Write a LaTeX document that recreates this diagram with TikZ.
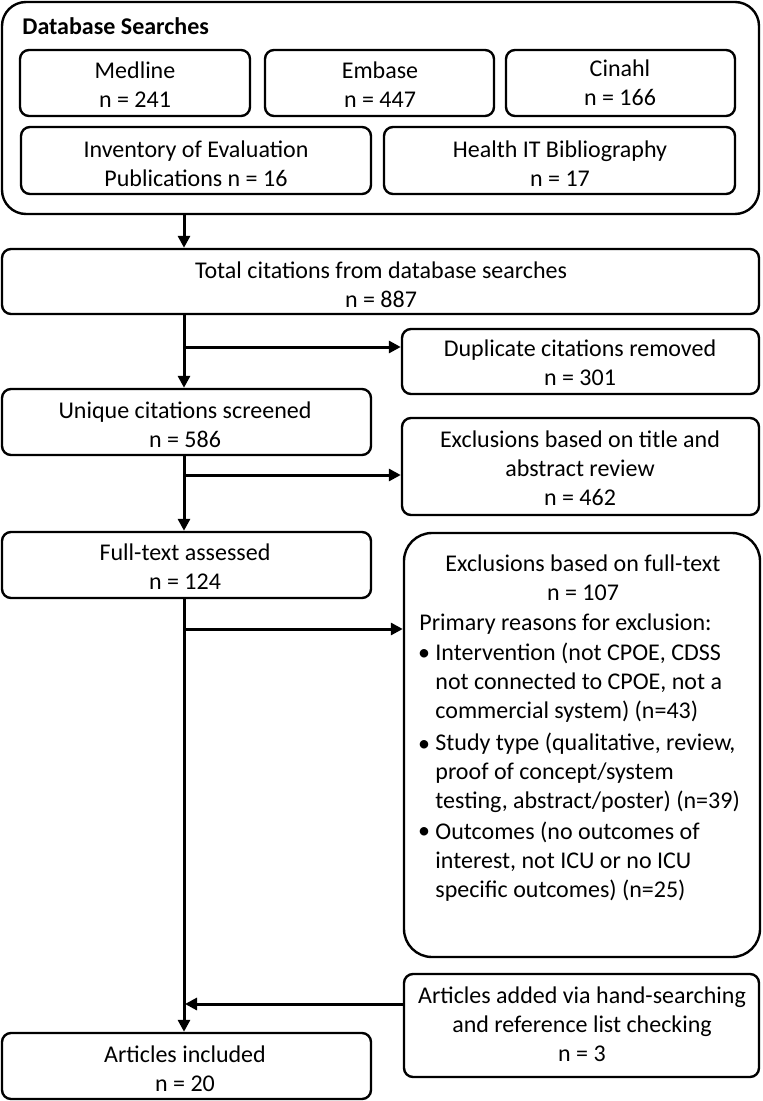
\documentclass[tikz,border=0pt]{standalone}
\usepackage{fontspec}
\setmainfont{Carlito}
\usetikzlibrary{fit,arrows.meta}
\begin{document}
\begin{tikzpicture}[x=0.5pt,y=-0.5pt,
  box/.style={draw=black, line width=1.2pt, rounded corners=4.5pt, inner sep=0pt},
  bigbox/.style={box, rounded corners=14pt},
  txt/.style={font=\fontsize{12}{14.5}\selectfont, inner sep=0pt, align=center, anchor=base, text=black},
  ltxt/.style={txt, align=left, anchor=base west},
  arr/.style={line width=1.5pt, -{Triangle[length=6pt,width=6pt]}}]
\useasboundingbox (0,0) rectangle (762,1101);

% database searches group (text anchors are at the baseline of the last line)
\node[bigbox, rounded corners=12pt, fit={(2,2) (759,214)}] (db) {};
\node[ltxt] (dbt) at (22,35) {\textbf{Database Searches}};
\node[box, fit={(20,50) (250,116)}] (med) {};
\node[txt] (medt) at (135,108) {Medline\\n = 241};
\node[box, fit={(265,50) (494,116)}] (emb) {};
\node[txt] (embt) at (380,108) {Embase\\n = 447};
\node[box, fit={(506,50) (735,116)}] (cin) {};
\node[txt] (cint) at (620,106) {Cinahl\\n = 166};
\node[box, fit={(21,127) (371,194)}] (inv) {};
\node[txt] (invt) at (196,187) {Inventory of Evaluation\\Publications n = 16};
\node[box, fit={(384,127) (735,194)}] (hit) {};
\node[txt] (hitt) at (560,187) {Health IT Bibliography\\n = 17};

% main flow
\node[box, fit={(2,249) (759,314)}] (total) {};
\node[txt] (totalt) at (381,307) {Total citations from database searches\\n = 887};
\node[box, fit={(402,329) (759,394)}] (dup) {};
\node[txt] (dupt) at (580,385) {Duplicate citations removed\\n = 301};
\node[box, fit={(2,389) (371,455)}] (uniq) {};
\node[txt] (uniqt) at (185,447) {Unique citations screened\\n = 586};
\node[box, fit={(402,418) (759,515)}] (ex1) {};
\node[txt] (ex1t) at (580,505) {Exclusions based on title and\\abstract review\\n = 462};
\node[box, fit={(2,532) (371,598)}] (full) {};
\node[txt] (fullt) at (185,589) {Full-text assessed\\n = 124};

\node[bigbox, fit={(404,533) (760,957)}] (ex2) {};
\node[txt] (ex2t) at (583,600) {Exclusions based on full-text\\n = 107};
\node[ltxt] (ex2p) at (419,630) {Primary reasons for exclusion:};
\node[txt] (b1) at (424,660) {\textbullet};
\node[ltxt] (i1) at (435,718) {Intervention (not CPOE, CDSS\\not connected to CPOE, not a\\commercial system) (n=43)};
\node[txt] (b2) at (424,751) {\textbullet};
\node[ltxt] (i2) at (435,808) {Study type (qualitative, review,\\proof of concept/system\\testing, abstract/poster) (n=39)};
\node[txt] (b3) at (424,838) {\textbullet};
\node[ltxt] (i3) at (435,897) {Outcomes (no outcomes of\\interest, not ICU or no ICU\\specific outcomes) (n=25)};

\node[box, fit={(404,974) (759,1077)}] (add) {};
\node[txt] (addt) at (582,1061) {Articles added via hand-searching\\and reference list checking\\n = 3};
\node[box, fit={(2,1033) (371,1099)}] (inc) {};
\node[txt] (inct) at (185,1091) {Articles included\\n = 20};

% connectors
\coordinate (col) at (184,0);
\draw[arr] (db.south -| col) -- (total.north -| col);
\draw[arr] (total.south -| col) -- (uniq.north -| col);
\coordinate (j1) at (184,347);
\draw[arr] (j1) -- (dup.west |- j1);
\draw[arr] (uniq.south -| col) -- (full.north -| col);
\coordinate (j2) at (184,475);
\draw[arr] (j2) -- (ex1.west |- j2);
\draw[arr] (full.south -| col) -- (inc.north -| col);
\coordinate (j3) at (184,629);
\draw[arr] (j3) -- (ex2.west |- j3);
\coordinate (j4) at (185,1004);
\draw[arr] (add.west |- j4) -- (j4);
\end{tikzpicture}
\end{document}
